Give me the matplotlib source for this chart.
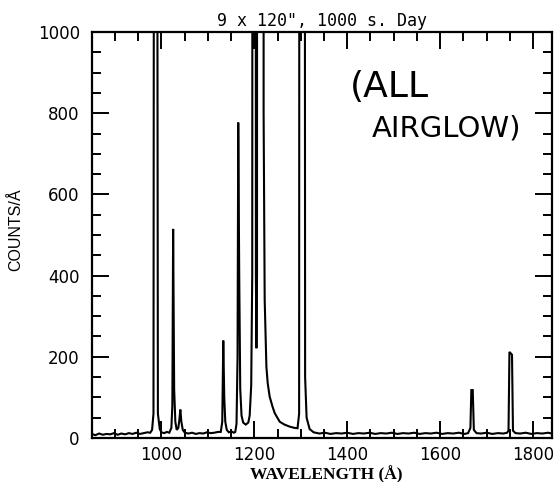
import matplotlib
matplotlib.use("Agg")
import matplotlib.pyplot as plt
from matplotlib.ticker import MultipleLocator

# Airglow spectrum: wavelength (Angstrom) and counts per Angstrom
wavelength = [
    850, 858, 866, 874, 882, 890, 898, 906, 914, 922, 930, 938, 946, 954, 962,
    970, 976, 980, 983, 985, 989.5, 992.5, 996.5, 1000, 1006, 1012, 1017,
    1021.5, 1023.6, 1025.3, 1027.5, 1030, 1033, 1036.5, 1038.7, 1040.8, 1043,
    1046, 1050.5, 1058, 1066, 1074, 1082, 1090, 1098, 1106, 1114, 1122,
    1127.8, 1131, 1133.2, 1135.3, 1137.5, 1140.7, 1145, 1151, 1156, 1159,
    1161.7, 1163.9, 1165.4, 1167.5, 1169.7, 1172.5, 1176, 1181.5, 1187, 1190,
    1193.3, 1195.5, 1197.2, 1202, 1203.4, 1204.5, 1205.8, 1208, 1218, 1220,
    1222.3, 1226, 1228.8, 1233, 1239.5, 1244, 1254.7, 1265, 1276, 1286, 1293,
    1296.4, 1298, 1307, 1309.3, 1312.5, 1319, 1327.6, 1340, 1352, 1364, 1376,
    1388, 1400, 1412, 1424, 1436, 1448, 1460, 1472, 1484, 1496, 1508, 1520,
    1532, 1544, 1556, 1568, 1580, 1592, 1604, 1616, 1628, 1640, 1652, 1660,
    1665, 1667, 1670, 1672.4, 1678, 1688, 1700, 1712, 1724, 1736, 1744, 1747,
    1749, 1754.5, 1756.6, 1762, 1772, 1784, 1796, 1808, 1820, 1832, 1840,
]
counts = [
    10, 7, 11, 8, 10, 9, 12, 8, 11, 9, 12, 10, 13, 10, 12,
    14, 13, 20, 60, 3000, 3000, 60, 22, 14, 12, 15, 13,
    25, 80, 515, 120, 40, 20, 25, 45, 70, 40,
    20, 13, 11, 13, 10, 12, 11, 14, 12, 13, 15,
    15, 40, 240, 100, 40, 20, 14, 16, 13, 15,
    35, 200, 777, 400, 120, 55, 38, 33, 38, 55,
    130, 400, 5000, 5000, 400, 221, 400, 30000, 30000, 800,
    340, 175, 135, 102, 76, 61, 40, 33, 28, 25, 24,
    60, 5000, 5000, 150, 50, 22, 14, 11, 13, 10, 12,
    11, 13, 10, 12, 11, 13, 10, 12, 11, 13, 10, 12,
    11, 13, 10, 12, 11, 13, 10, 12, 11, 13, 10, 12,
    25, 118, 118, 20, 12, 11, 13, 10, 12, 11, 13, 18,
    212, 205, 18, 12, 11, 13, 10, 12, 11, 13, 11,
]

x_major = [1000, 1200, 1400, 1600, 1800]
y_major = [0, 200, 400, 600, 800, 1000]

fig = plt.figure(figsize=(5.59, 4.82), dpi=100)
ax = fig.add_axes([0.164, 0.0913, 0.823, 0.8423])

ax.plot(wavelength, counts, color="black", lw=1.5, solid_joinstyle="miter")

ax.set_xlim(850, 1840)
ax.set_ylim(0, 1000)
ax.set_xticks(x_major)
ax.set_yticks(y_major)
ax.xaxis.set_minor_locator(MultipleLocator(50))
ax.yaxis.set_minor_locator(MultipleLocator(50))
ax.tick_params(which="both", direction="in", top=True, right=True,
               width=1.4, color="black")
ax.tick_params(which="major", length=12.5, pad=8.5, labelsize=12)
ax.tick_params(axis="x", which="major", pad=5.5)
ax.tick_params(which="minor", length=6.5)
for lab in ax.get_xticklabels() + ax.get_yticklabels():
    lab.set_family("DejaVu Sans")
for sp in ax.spines.values():
    sp.set_linewidth(1.6)

fig.text(0.576, 0.956, '9 x 120", 1000 s. Day', ha="center", va="center",
         family="DejaVu Sans Mono", fontsize=12)
fig.text(0.583, 0.016, "WAVELENGTH (Å)", ha="center", va="center",
         family="Liberation Serif", fontweight="bold", fontsize=12.5)
fig.text(0.028, 0.523, "COUNTS/Å", ha="center", va="center", rotation=90,
         family="Liberation Sans", fontsize=11.5)

# handwritten note
fig.text(350 / 559, 1 - 97 / 482, "(ALL", ha="left", va="baseline",
         family="DejaVu Sans", fontsize=26)
fig.text(372 / 559, 1 - 137 / 482, "AIRGLOW)", ha="left", va="baseline",
         family="DejaVu Sans", fontsize=21)

fig.savefig("out.png", dpi=100)
